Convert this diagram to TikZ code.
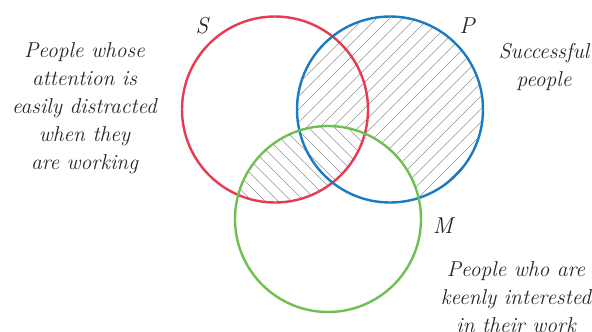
\documentclass[tikz,border=0pt]{standalone}
\usepackage{tikz}
\definecolor{cS}{RGB}{232,58,80}
\definecolor{cP}{RGB}{26,123,196}
\definecolor{cM}{RGB}{110,192,80}
\definecolor{hatch}{RGB}{150,150,150}
\tikzset{
  ring/.style={line width=2.4pt},
  hline/.style={draw=hatch, line width=0.6pt},
  lbl/.style={font=\fontsize{21.5}{28}\selectfont\itshape, align=center, inner sep=0pt, text=black!85},
  letter/.style={font=\fontsize{23}{24}\selectfont\itshape, inner sep=0pt, text=black!85}
}
\begin{document}
\begin{tikzpicture}[x=1pt,y=-1pt]
\useasboundingbox (0,0) rectangle (592,332);
\coordinate (cs) at (275,109.5);
\coordinate (cp) at (390,109.5);
\coordinate (cm) at (328,219);
\def\R{93}
% P minus M
\begin{scope}[even odd rule]
  \clip (cm) circle (\R) (-10,-10) rectangle (602,342);
  \clip (cp) circle (\R);
  \foreach \c in {200,213,...,800} \draw[hline] (\c,0) -- (\c-400,400);
\end{scope}
% S intersect M
\begin{scope}
  \clip (cs) circle (\R);
  \clip (cm) circle (\R);
  \foreach \c in {-300,-287,...,400} \draw[hline] (\c,0) -- (\c+400,400);
\end{scope}
\node[circle, draw=cS, ring, minimum size=186pt, inner sep=0pt] (S) at (cs) {};
\node[circle, draw=cP, ring, minimum size=186pt, inner sep=0pt] (P) at (cp) {};
\node[circle, draw=cM, ring, minimum size=186pt, inner sep=0pt] (M) at (cm) {};
\node[letter] (ls) at (202,26) {S};
\node[letter] (lp) at (467,26) {P};
\node[letter] (lm) at (443,226) {M};
\node[lbl] (ts) at (84.5,108) {People whose\\attention is\\easily distracted\\when they\\are working};
\node[lbl] (tp) at (544,67) {Successful\\people};
\node[lbl] (tm) at (516,297) {People who are\\keenly interested\\in their work};
\end{tikzpicture}
\end{document}
